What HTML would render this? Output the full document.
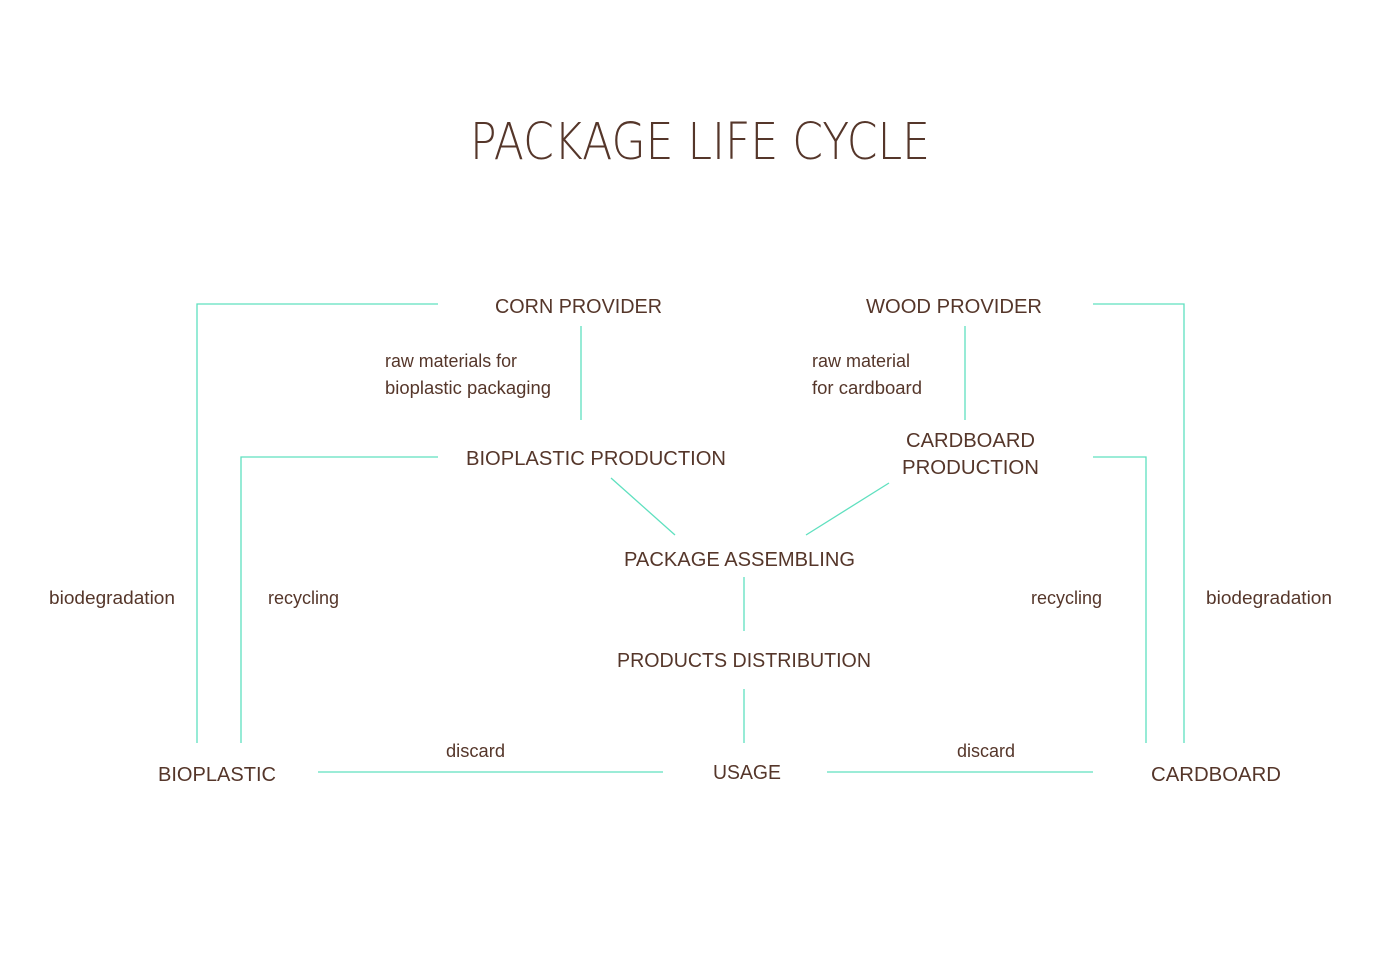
<!DOCTYPE html>
<html><head><meta charset="utf-8"><style>
html,body{margin:0;padding:0;background:#fff;width:1400px;height:957px;overflow:hidden}
svg text{font-family:"Liberation Sans",sans-serif;fill:#55362a}
svg text.t{font-family:"DejaVu Sans ExtraLight","DejaVu Sans","Liberation Sans",sans-serif;font-weight:200}
</style></head><body>
<svg width="1400" height="957" viewBox="0 0 1400 957">
<g stroke="#5fe0bf" stroke-width="1.3" fill="none">
<polyline points="438,304 197,304 197,743"/>
<polyline points="438,457 241,457 241,743"/>
<line x1="581" y1="326" x2="581" y2="420"/>
<line x1="965" y1="326" x2="965" y2="420"/>
<polyline points="1093,304 1184,304 1184,743"/>
<polyline points="1093,457 1146,457 1146,743"/>
<line x1="611" y1="478" x2="675" y2="535"/>
<line x1="889" y1="483" x2="806" y2="535"/>
<line x1="744" y1="577" x2="744" y2="631"/>
<line x1="744" y1="689" x2="744" y2="743"/>
<line x1="318" y1="772" x2="663" y2="772"/>
<line x1="827" y1="772" x2="1093" y2="772"/>
</g>
<text class="t" x="470" y="159" font-size="51" textLength="460" lengthAdjust="spacingAndGlyphs">PACKAGE LIFE CYCLE</text>
<g font-size="20">
<text x="495" y="313" textLength="167" lengthAdjust="spacingAndGlyphs">CORN PROVIDER</text>
<text x="866" y="313" textLength="176" lengthAdjust="spacingAndGlyphs">WOOD PROVIDER</text>
<text x="466" y="465" textLength="260" lengthAdjust="spacingAndGlyphs">BIOPLASTIC PRODUCTION</text>
<text x="906" y="447" textLength="129" lengthAdjust="spacingAndGlyphs">CARDBOARD</text>
<text x="902" y="474" textLength="137" lengthAdjust="spacingAndGlyphs">PRODUCTION</text>
<text x="624" y="566" textLength="231" lengthAdjust="spacingAndGlyphs">PACKAGE ASSEMBLING</text>
<text x="617" y="667" textLength="254" lengthAdjust="spacingAndGlyphs">PRODUCTS DISTRIBUTION</text>
<text x="713" y="779" textLength="68" lengthAdjust="spacingAndGlyphs">USAGE</text>
<text x="158" y="781" textLength="118" lengthAdjust="spacingAndGlyphs">BIOPLASTIC</text>
<text x="1151" y="781" textLength="130" lengthAdjust="spacingAndGlyphs">CARDBOARD</text>
</g>
<g font-size="18">
<text x="385" y="367" textLength="132" lengthAdjust="spacingAndGlyphs">raw materials for</text>
<text x="385" y="394" textLength="166" lengthAdjust="spacingAndGlyphs">bioplastic packaging</text>
<text x="812" y="367" textLength="98" lengthAdjust="spacingAndGlyphs">raw material</text>
<text x="812" y="394" textLength="110" lengthAdjust="spacingAndGlyphs">for cardboard</text>
<text x="446" y="757" textLength="59" lengthAdjust="spacingAndGlyphs">discard</text>
<text x="957" y="757" textLength="58" lengthAdjust="spacingAndGlyphs">discard</text>
<text x="49" y="604" textLength="126" lengthAdjust="spacingAndGlyphs">biodegradation</text>
<text x="268" y="604" textLength="71" lengthAdjust="spacingAndGlyphs">recycling</text>
<text x="1031" y="604" textLength="71" lengthAdjust="spacingAndGlyphs">recycling</text>
<text x="1206" y="604" textLength="126" lengthAdjust="spacingAndGlyphs">biodegradation</text>
</g>
</svg>
</body></html>
